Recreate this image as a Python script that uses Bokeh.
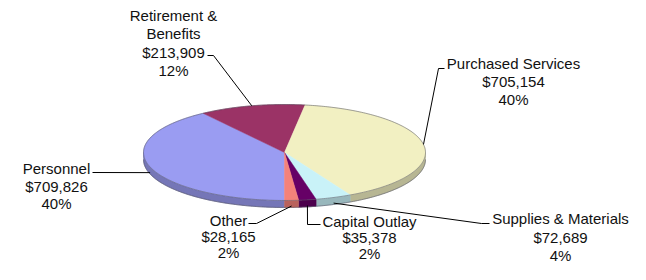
import numpy as np
from bokeh.plotting import figure
from bokeh.models import Range1d
from bokeh.core.properties import value
from bokeh.embed import file_html
from bokeh.resources import INLINE

# ---------------- data ----------------
categories = ["Personnel", "Retirement & Benefits", "Purchased Services",
              "Supplies & Materials", "Capital Outlay", "Other"]
amounts = [709826, 213909, 705154, 72689, 35378, 28165]

# ---------------- styles / layout ----------------
colors = ["#9a9cf2", "#9b3366", "#f2f0c2", "#c9f2f8", "#660066", "#f4827a"]
label_wrap = {"Retirement & Benefits": ["Retirement &", "Benefits"]}
# centre (x, y of first line) of each label block, in pixel coords
label_pos = [(56, 168), (173, 15), (513, 63), (560, 218), (369, 221), (228, 220)]
label_line_h = [17.5, 18.3, 18, 18.5, 16, 16]
# leader-line points on the label side (pie point is appended)
leader_label_side = [
    [(92, 172)],
    [(207, 55), (213, 55)],
    [(444, 68), (438, 68)],
    [(489, 223), (481, 223)],
    [(320, 224), (307, 224)],
    [(248, 223), (256, 223)],
]
CX, CY, RX, RY, DEPTH = 284, 152, 141, 48, 7
START = 270.0          # first slice starts at 6 o'clock, clockwise
FONT = "Liberation Sans"
FSIZE = "15px"


def shade(hexcol, f):
    h = hexcol.lstrip("#")
    r, g, b = (int(h[i:i + 2], 16) for i in (0, 2, 4))
    return "#%02x%02x%02x" % (int(r * f), int(g * f), int(b * f))


def ex(t):
    return CX + RX * np.cos(np.radians(t))


def ey(t):
    return CY - RY * np.sin(np.radians(t))


total = float(sum(amounts))
fracs = [a / total for a in amounts]

p = figure(width=630, height=264, x_range=Range1d(0, 630), y_range=Range1d(264, 0),
           x_axis_type=None, y_axis_type=None, output_backend="svg",
           toolbar_location=None, min_border=0)
p.grid.visible = False
p.outline_line_color = None
p.background_fill_color = "white"

# slice angle ranges (hi -> lo, clockwise)
ranges = []
a = START
for f in fracs:
    ranges.append((a, a - f * 360.0))
    a -= f * 360.0

# ---- side walls (front half only) ----
side_xs, side_ys, side_cols = [], [], []
for (hi, lo), c in zip(ranges, colors):
    for fs, fe in ((-180.0, 0.0), (180.0, 360.0)):
        s, e = max(lo, fs), min(hi, fe)
        if e - s > 0.01:
            t = np.linspace(s, e, max(3, int((e - s) * 2)))
            xs = list(ex(t)) + list(ex(t[::-1]))
            ys = list(ey(t)) + list(ey(t[::-1]) + DEPTH)
            side_xs.append(xs)
            side_ys.append(ys)
            side_cols.append(shade(c, 0.76))
p.patches(side_xs, side_ys, fill_color=side_cols, line_color=side_cols, line_width=0.5)

# bottom edge line of the side
tb = np.linspace(180, 360, 200)
p.line(ex(tb), ey(tb) + DEPTH, line_color="#555566", line_alpha=0.6, line_width=1)

# ---- top face wedges ----
top_xs, top_ys = [], []
for (hi, lo) in ranges:
    t = np.linspace(hi, lo, max(3, int((hi - lo) * 2)))
    top_xs.append([CX] + list(ex(t)))
    top_ys.append([CY] + list(ey(t)))
p.patches(top_xs, top_ys, fill_color=colors, line_color=colors, line_width=0.5)

# rim outline
tr = np.linspace(0, 360, 400)
p.line(ex(tr), ey(tr), line_color="#555560", line_alpha=0.55, line_width=1)

# ---- leader lines ----
lx, ly = [], []
for (hi, lo), pts in zip(ranges, leader_label_side):
    mid = (hi + lo) / 2.0
    px, py = ex(mid), ey(mid)
    if np.sin(np.radians(mid)) < 0:
        py += DEPTH * 0.8
    lx.append([q[0] for q in pts] + [px])
    ly.append([q[1] for q in pts] + [py])
p.multi_line(lx, ly, line_color="black", line_width=1)

# ---- labels ----
tx, ty, tt = [], [], []
for cat, amt, f, (x0, y0), lh in zip(categories, amounts, fracs, label_pos, label_line_h):
    lines = label_wrap.get(cat, [cat]) + ["${:,}".format(amt), "{:.0f}%".format(f * 100)]
    for i, s in enumerate(lines):
        tx.append(x0)
        ty.append(y0 + i * lh)
        tt.append(s)
p.text(tx, ty, text=tt, text_align="center", text_baseline="middle",
       text_font=value(FONT), text_font_size=FSIZE, text_color="#111111")

open("out.html", "w").write(file_html(p, INLINE))
